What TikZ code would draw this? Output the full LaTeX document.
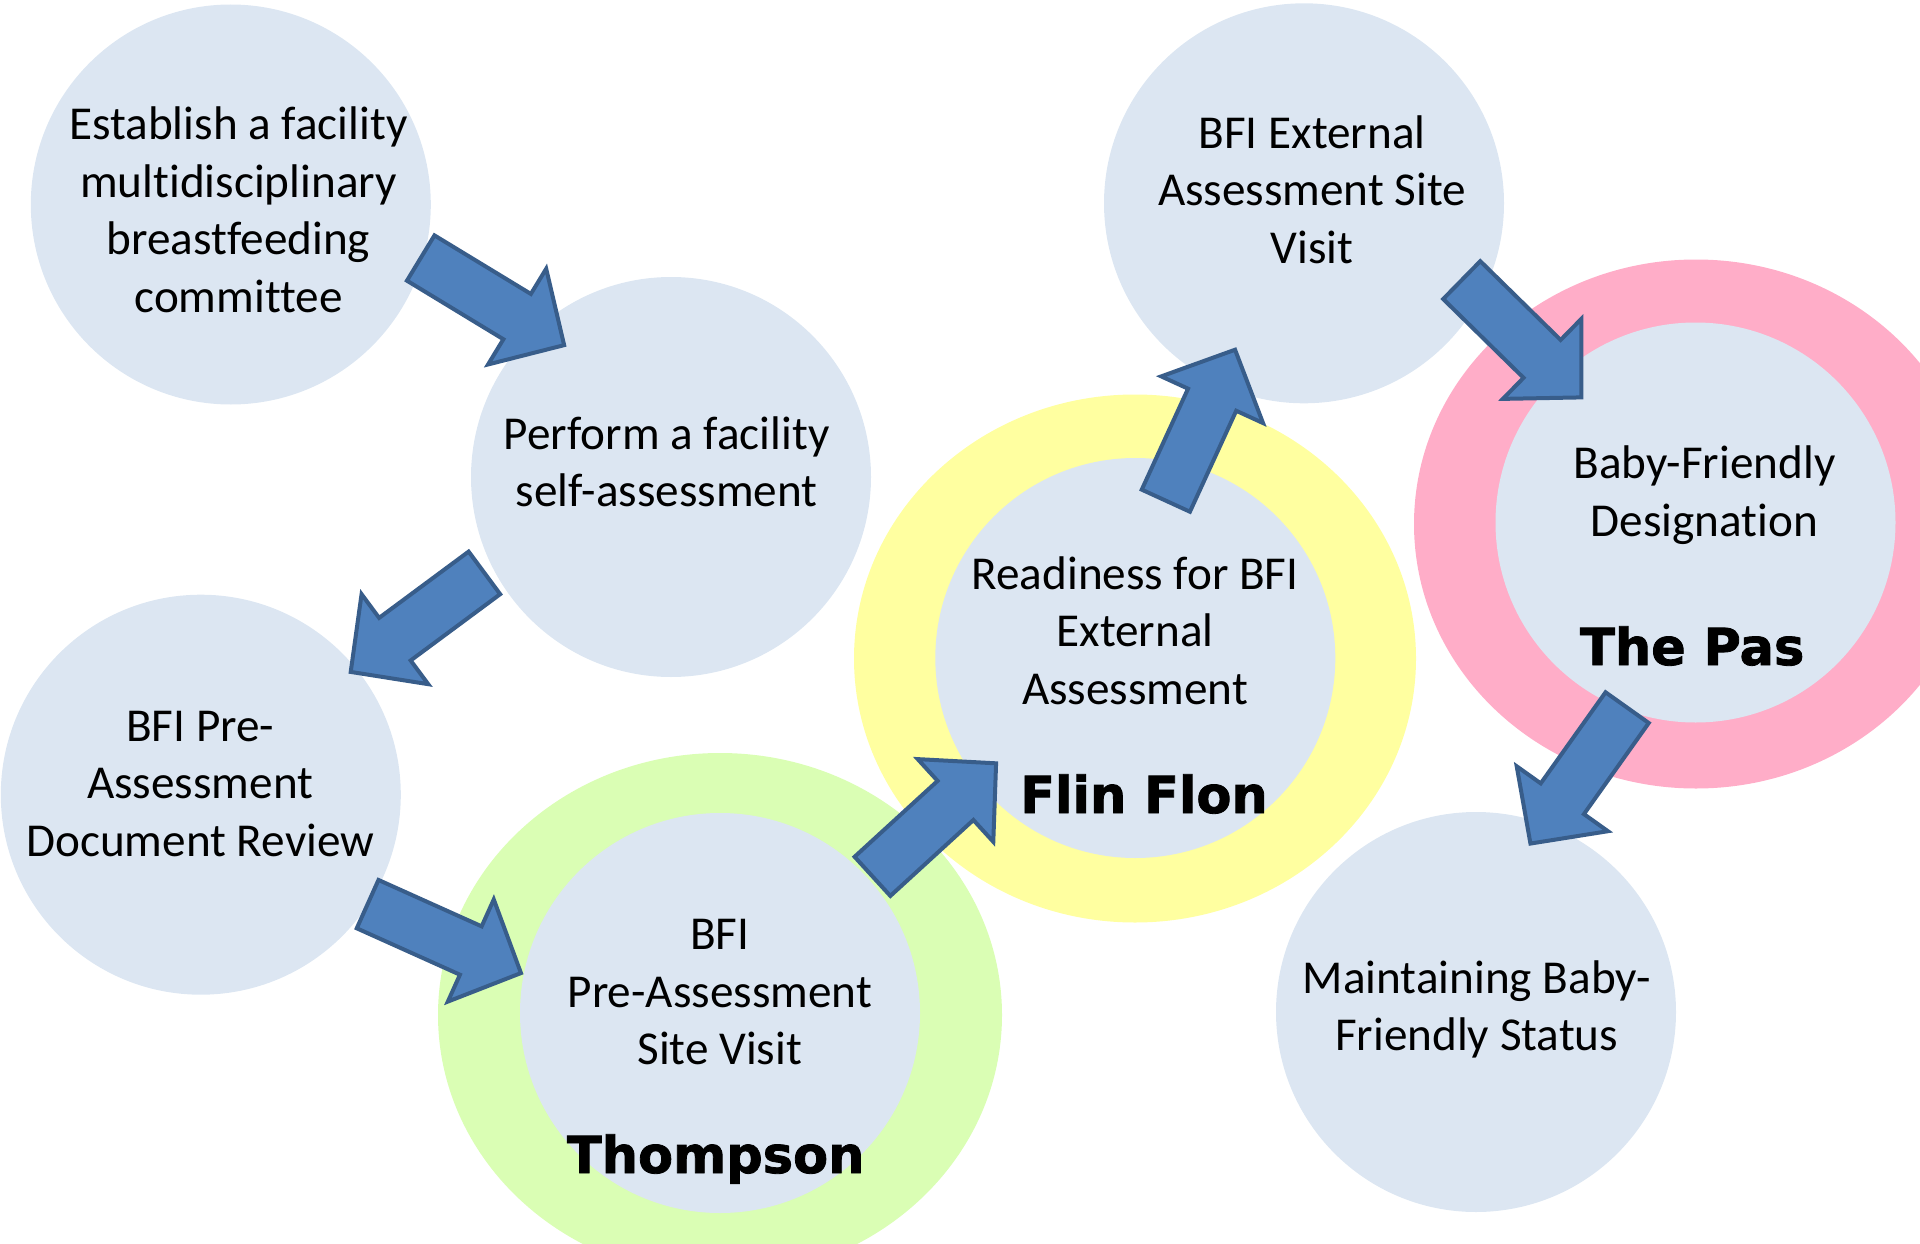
\documentclass[tikz,border=0pt]{standalone}
\usepackage{fontspec}
\setmainfont{Carlito}[Ligatures={NoCommon}]
\newfontfamily\labfont{DejaVu Sans Bold}[FakeBold=1.6]
\usetikzlibrary{calc}
\definecolor{bubfill}{HTML}{DCE6F2}
\definecolor{ringgreen}{RGB}{218,254,180}
\definecolor{ringyellow}{RGB}{255,255,160}
\definecolor{ringpink}{RGB}{255,173,200}
\definecolor{arrfill}{HTML}{4F81BD}
\definecolor{arrline}{HTML}{385D8A}
\newcommand{\blockarrow}[2]{%
  \coordinate (ba-s) at ($(#1)!2pt!(#2)$);
  \coordinate (ba-e) at ($(#2)!3pt!(#1)$);
  \coordinate (ba-h) at ($(ba-e)!55pt!(ba-s)$);
  \filldraw[barrow] ($(ba-s)!26.5pt!90:(ba-e)$) -- ($(ba-h)!26.5pt!-90:(ba-s)$)
    -- ($(ba-h)!56pt!-90:(ba-s)$) -- (ba-e) -- ($(ba-h)!56pt!90:(ba-s)$)
    -- ($(ba-h)!26.5pt!90:(ba-s)$) -- ($(ba-s)!26.5pt!-90:(ba-e)$) -- cycle;
}
\begin{document}
\begin{tikzpicture}[x=1pt,y=-1pt,
  bub/.style={circle, fill=bubfill, minimum size=400pt, inner sep=0pt},
  txt/.style={font=\fontsize{47.2}{57.5}\selectfont, align=center, inner sep=0pt},
  lab/.style={font=\labfont\fontsize{51}{60}\selectfont, anchor=base, inner sep=0pt},
  barrow/.style={fill=arrfill, draw=arrline, line width=4pt, line join=miter}]
\useasboundingbox (0,0) rectangle (1920,1244);
\clip (0,0) rectangle (1920,1244);
% rings
\fill[ringgreen] (720,1015) ellipse [x radius=282pt, y radius=262pt];
\fill[ringyellow] (1135,658.5) ellipse [x radius=281pt, y radius=264pt];
\fill[ringpink] (1696,524) ellipse [x radius=282pt, y radius=264.5pt];
% circles
\node[bub] (c1) at (230.8,204.5) {};
\node[bub] (c2) at (671,477) {};
\node[bub] (c3) at (200.8,794.7) {};
\node[bub] (c4) at (720,1013) {};
\node[bub] (c5) at (1135.3,658) {};
\node[bub] (c6) at (1304,203.3) {};
\node[bub] (c7) at (1695.5,522.5) {};
\node[bub] (c8) at (1476,1012) {};
% arrow end points
\coordinate (a1s) at (419,257);     \coordinate (a1e) at (566.7,346.7);
\coordinate (a2s) at (486,571.7);   \coordinate (a2e) at (348.3,673.7);
\coordinate (a3s) at (365.8,903.3); \coordinate (a3e) at (523.7,974.3);
\coordinate (a4s) at (871,877.7);   \coordinate (a4e) at (998.3,761.3);
\coordinate (a5s) at (1165,502.5);  \coordinate (a5e) at (1236.3,347);
\coordinate (a6s) at (1460.3,278.7);\coordinate (a6e) at (1583.5,399.5);
\coordinate (a7s) at (1628.3,706);  \coordinate (a7e) at (1528.7,846);
\blockarrow{a1s}{a1e}
\blockarrow{a2s}{a2e}
\blockarrow{a3s}{a3e}
\blockarrow{a4s}{a4e}
\blockarrow{a5s}{a5e}
\blockarrow{a6s}{a6e}
\blockarrow{a7s}{a7e}
% texts
\node[txt] (t1) at (238.5,214.7) {\strut Establish a facility\\multidisciplinary\\breastfeeding\\committee\strut};
\node[txt] (t2) at (666.7,466.7) {\strut Perform a facility\\self-assessment\strut};
\node[txt] (t3) at (200.2,787) {\strut BFI Pre-\\Assessment\\Document Review\strut};
\node[txt] (t4) at (719.7,995.5) {\strut BFI\\Pre-Assessment\\Site Visit\strut};
\node[txt] (t5) at (1135,635) {\strut Readiness for BFI\\External\\Assessment\strut};
\node[txt] (t6) at (1312,194) {\strut BFI External\\Assessment Site\\Visit\strut};
\node[txt] (t7) at (1704.5,496) {\strut Baby-Friendly\\Designation\strut};
\node[txt] (t8) at (1476.7,1010.4) {\strut Maintaining Baby-\\Friendly Status\strut};
\node[lab] (l4) at (715.7,1173) {Thompson};
\node[lab] (l5) at (1144,813) {Flin Flon};
\node[lab] (l7) at (1692.2,665) {The Pas};
\end{tikzpicture}
\end{document}
